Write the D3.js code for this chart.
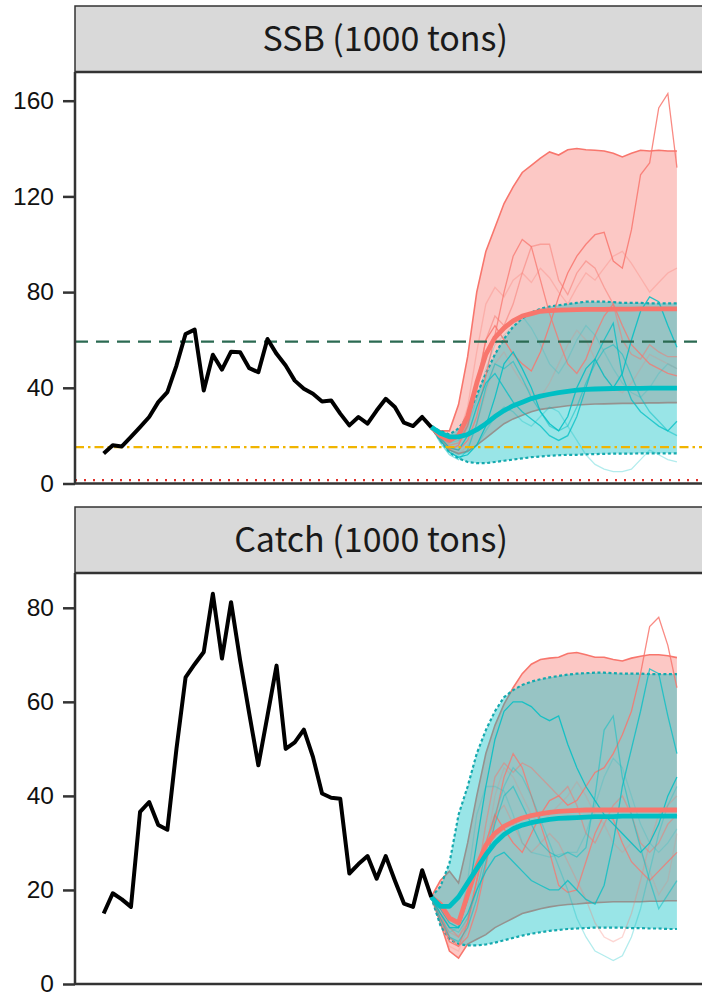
<!DOCTYPE html>
<html>
<head>
<meta charset="utf-8">
<script src="https://cdnjs.cloudflare.com/ajax/libs/d3/7.8.5/d3.min.js"></script>
<style>
  body { margin: 0; background: #fff; }
</style>
</head>
<body>
<svg id="chart"></svg>
<script>
// Years: historical run and projection (projection starts at last observed year)
const histYears = d3.range(1982, 2019);
const projYears = d3.range(2018, 2046);

// SSB (1000 tons), observed
const ssbHist = [12.5, 16, 15.5, 19.5, 23.6, 27.8, 34, 38.2, 49.3, 62.5, 64.3, 38.9, 53.8, 47.6, 55.1, 54.9,
  48.2, 46.5, 60.4, 54.2, 49.3, 43, 39.6, 37.5, 34.3, 34.7, 29.2, 24.3, 27.8, 25, 30.5, 35.4, 32, 25.4, 24, 27.8, 23.6];

// Catch (1000 tons), observed
const catchHist = [15, 19.3, 18, 16.4, 36.6, 38.7, 33.8, 32.8, 50, 65.2, 68, 70.6, 83, 69.2, 81.2, 68.8,
  57.5, 46.5, 57, 67.7, 50, 51.4, 54.1, 48.3, 40.5, 39.6, 39.4, 23.5, 25.5, 27.2, 22.4, 27.2, 22, 17.1, 16.4, 24.2, 18.5];

// Scenario names (ggplot default hues)
const scenarios = ["A", "B"];

// SSB projections: median and band per scenario
const ssbMedA = [23.6, 20, 18, 20, 28, 42, 54, 61, 65, 68, 70, 71, 72, 72.3, 72.5, 72.6, 72.7, 72.8, 72.8, 72.8, 72.9, 72.9, 72.9, 73, 73, 73, 73, 73];
const ssbLoA = [23.6, 18, 14, 12.5, 13.5, 16, 19, 22, 25, 27, 28.5, 30, 31, 31.5, 32, 32.5, 32.8, 33, 33.2, 33.3, 33.4, 33.5, 33.5, 33.6, 33.7, 33.7, 33.8, 33.8];
const ssbHiA = [23.6, 22, 22, 33, 53, 80, 97, 107, 117, 124, 130, 133, 136, 138.6, 137.3, 139.5, 140, 139.5, 139.3, 139, 138, 136.5, 138, 139.3, 139, 139.3, 139, 139];
const ssbMedB = [23.6, 21, 19.5, 19.5, 20.5, 22.5, 25, 28, 30.5, 32.5, 34, 35.5, 36.5, 37.3, 38, 38.5, 39, 39.3, 39.5, 39.6, 39.7, 39.8, 39.8, 39.8, 39.9, 39.9, 39.9, 39.9];
const ssbLoB = [23.6, 18, 13, 10.5, 9, 8.5, 8.5, 9, 9.5, 10, 10.5, 11, 11.3, 11.6, 11.8, 12, 12, 12.2, 12.3, 12.4, 12.5, 12.5, 12.5, 12.6, 12.6, 12.6, 12.6, 12.6];
const ssbHiB = [23.6, 22, 20.5, 23, 28, 37, 46, 54, 60.5, 65.5, 69, 71.5, 73, 74, 74.5, 75, 75.5, 76, 76, 76, 75.8, 75.5, 75.5, 75.5, 75.3, 75.3, 75.3, 75.3];

// SSB sample trajectories
const ssbSimA = [
  [23.6, 18, 14, 16, 24, 40, 60, 66, 60, 54, 50, 47, 55, 66, 78, 88, 95, 100, 104, 105, 93, 90, 106, 129, 134, 157, 163, 132],
  [23.6, 19, 15, 14, 18, 28, 45, 62, 80, 95, 102, 99, 85, 71, 60, 50, 46, 52, 62, 70, 75, 66, 58, 54, 50, 48, 46, 45],
  [23.6, 20, 16, 17, 25, 42, 60, 70, 66, 75, 88, 99, 100, 100, 85, 79, 88, 93, 90, 82, 75, 60, 54, 52, 58, 55, 53, 53],
  [23.6, 20, 17, 20, 32, 55, 75, 82, 78, 85, 88, 84, 90, 86, 80, 75, 82, 88, 85, 90, 95, 97, 92, 86, 80, 84, 88, 90],
  [23.6, 18, 13, 12, 16, 25, 38, 50, 55, 48, 42, 38, 36, 42, 50, 58, 64, 60, 52, 45, 40, 38, 42, 48, 54, 52, 50, 48]
];
const ssbSimB = [
  [23.6, 18, 13, 11, 12, 16, 24, 36, 50, 55, 48, 40, 30, 25, 22, 28, 40, 48, 52, 45, 40, 46, 60, 72, 78, 76, 66, 57],
  [23.6, 19, 15, 14, 20, 32, 42, 46, 40, 34, 30, 27, 24, 20, 18, 20, 28, 40, 52, 60, 67, 45, 35, 30, 27, 24, 22, 26],
  [23.6, 17, 12, 10, 14, 25, 40, 50, 48, 51, 44, 36, 30, 24, 22, 24, 32, 42, 50, 56, 58, 54, 45, 36, 30, 26, 22, 20],
  [23.6, 18, 14, 12, 13, 16, 22, 28, 32, 30, 26, 24, 28, 32, 30, 24, 18, 12, 8, 6, 5, 5, 6, 10, 14, 12, 10, 9],
  [23.6, 20, 17, 18, 24, 35, 48, 58, 62, 66, 70, 65, 58, 50, 46, 52, 60, 66, 62, 55, 48, 42, 38, 36, 40, 46, 50, 48]
];

// Catch projections: median and band per scenario
const catchMedA = [18.5, 17, 14, 13, 19, 25, 29.5, 32, 33.5, 34.5, 35.3, 35.8, 36.2, 36.5, 36.7, 36.8, 36.9, 37, 37, 37, 37, 37, 37, 37, 37, 37, 37, 37];
const catchLoA = [18.5, 13, 7, 5.5, 8.5, 9.5, 10.5, 12, 13, 14, 15, 15.5, 16, 16.4, 16.7, 16.9, 17, 17.2, 17.3, 17.4, 17.5, 17.5, 17.5, 17.5, 17.6, 17.6, 17.7, 17.7];
const catchHiA = [18.5, 22, 24, 21.5, 30, 40, 49, 55, 59.5, 63, 66, 68, 69, 69.3, 69.5, 70.3, 70.5, 70, 69.5, 69.5, 69, 68.7, 69.3, 69.7, 70, 70, 69.8, 69.4];
const catchMedB = [18.5, 16.5, 16.5, 18.5, 21.5, 24.5, 27.5, 30, 31.8, 33, 33.8, 34.3, 34.7, 35, 35.2, 35.3, 35.4, 35.5, 35.6, 35.6, 35.6, 35.7, 35.7, 35.7, 35.7, 35.7, 35.7, 35.7];
const catchLoB = [18.5, 12.5, 9.5, 8.5, 8.2, 8.2, 8.4, 8.8, 9.3, 9.8, 10.3, 10.7, 11, 11.3, 11.5, 11.7, 11.8, 11.9, 12, 12, 12, 12, 11.9, 11.9, 11.8, 11.8, 11.7, 11.7];
const catchHiB = [18.5, 20.7, 25.7, 36, 42, 49, 54, 58, 61, 62.5, 63.6, 64.3, 64.8, 65.2, 65.5, 65.8, 66, 66.1, 66.2, 66.2, 66.1, 66, 66, 66, 65.9, 65.9, 65.9, 65.9];

// Catch sample trajectories
const catchSimA = [
  [18.5, 14, 9, 8, 13, 22, 30, 36, 33, 30, 28, 32, 36, 39, 40, 38, 39, 42, 45, 46, 49, 53, 58, 66, 76, 78, 72, 63],
  [18.5, 15, 10, 8, 10, 16, 25, 35, 44, 49, 46, 40, 34, 28, 21, 19.5, 20, 26, 32, 36, 35, 30, 26, 24, 22, 24, 26, 28],
  [18.5, 16, 12, 10, 13, 22, 34, 44, 47, 45, 47, 46, 44, 42, 40, 42, 38, 32, 30, 34, 38, 40, 36, 30, 28, 30, 34, 36],
  [18.5, 15, 11, 10, 14, 22, 30, 36, 38, 34, 30, 28, 30, 32, 30, 26, 22, 18, 13, 10, 9, 10, 15, 22, 30, 36, 38, 40],
  [18.5, 14, 8, 7, 12, 20, 28, 40, 46, 44, 40, 36, 34, 36, 38, 40, 43, 40, 36, 34, 30, 28, 30, 28, 24, 19, 22, 32]
];
const catchSimB = [
  [18.5, 15, 12, 12, 18, 30, 42, 52, 58, 60, 60, 59, 57, 56, 57, 51, 46, 42, 39, 36, 34, 32, 30, 28, 30, 34, 40, 44],
  [18.5, 16, 13, 12, 15, 20, 24, 27, 28, 26, 24, 22, 21, 20, 20, 22, 20, 18, 17, 21, 30, 42, 50, 58, 67, 66, 57, 49],
  [18.5, 14, 10, 9, 12, 18, 26, 34, 40, 42, 38, 34, 30, 28, 27, 28, 27, 29, 40, 54, 57, 44, 36, 29, 22, 16, 19, 22],
  [18.5, 15, 12, 11, 14, 20, 28, 36, 42, 46, 44, 40, 35, 30, 25, 20, 14, 10, 7, 6, 5, 6, 10, 16, 24, 32, 38, 42],
  [18.5, 14, 11, 12, 22, 36, 42, 42, 41, 36, 30, 28, 27.5, 27, 27.5, 28, 28, 32, 38, 44, 48, 46, 40, 34, 30, 28, 30, 33]
];

// Reference points for SSB (1000 tons)
const ssbTarget = 59.3;
const ssbLimit = 15.2;
const ssbBan = 1.4;

const simAlpha = [0.85, 0.75, 0.5, 0.3, 0.2];

// ---- layout ----
const W = 702, H = 994;
const colors = { A: "#F8766D", B: "#00BFC4" };

const svg = d3.select("#chart").attr("width", W).attr("height", H);

const firstYear = histYears[0];
const lastYear = projYears[projYears.length - 1];
const pad = (lastYear - firstYear) * 0.05;
const xScale = d3.scaleLinear()
  .domain([firstYear - pad, lastYear + pad])
  .range([75, 705.6]);

const panels = [
  {
    title: "SSB (1000 tons)", stripTop: 6, top: 72, bottom: 483.5, yMax: 172,
    ticks: [0, 40, 80, 120, 160], hist: ssbHist,
    proj: { A: [ssbLoA, ssbMedA, ssbHiA, ssbSimA], B: [ssbLoB, ssbMedB, ssbHiB, ssbSimB] },
    refs: true
  },
  {
    title: "Catch (1000 tons)", stripTop: 507, top: 573, bottom: 984, yMax: 87.4,
    ticks: [0, 20, 40, 60, 80], hist: catchHist,
    proj: { A: [catchLoA, catchMedA, catchHiA, catchSimA], B: [catchLoB, catchMedB, catchHiB, catchSimB] },
    refs: false
  }
];

panels.forEach((p) => {
  const yScale = d3.scaleLinear().domain([0, p.yMax]).range([p.bottom, p.top]);
  const g = svg.append("g");
  const x0 = xScale.range()[0], x1 = xScale.range()[1];

  // Strip
  g.append("rect")
    .attr("x", x0).attr("y", p.stripTop)
    .attr("width", x1 - x0).attr("height", p.top - p.stripTop)
    .attr("fill", "#d9d9d9")
    .attr("stroke", "#333").attr("stroke-width", 1.5);
  g.append("text")
    .attr("x", 508)
    .attr("y", (p.stripTop + p.top) / 2)
    .attr("dy", "0.36em")
    .attr("text-anchor", "end")
    .attr("fill", "#1a1a1a")
    .style("font-family", "'Noto Sans CJK JP', 'Noto Sans', sans-serif")
    .style("font-size", "34px")
    .text(p.title);

  const area = d3.area()
    .x((d, i) => xScale(projYears[i]))
    .y0((d) => yScale(d[0]))
    .y1((d) => yScale(d[1]));
  const line = d3.line()
    .x((d, i) => xScale(projYears[i]))
    .y((d) => yScale(d));

  // Ribbons and band edges
  scenarios.forEach((s) => {
    const [lo, med, hi] = p.proj[s];
    const band = lo.map((v, i) => [v, hi[i]]);
    g.append("path")
      .attr("d", area(band))
      .attr("fill", colors[s])
      .attr("fill-opacity", 0.4);
    [lo, hi].forEach((edge) => {
      g.append("path")
        .attr("d", line(edge))
        .attr("fill", "none")
        .attr("stroke", s === "A" ? colors.A : "#14a9ae")
        .attr("stroke-width", s === "A" ? 1.6 : 2.2)
        .attr("stroke-dasharray", s === "A" ? null : "3,2.5");
    });
  });

  // Sample trajectories
  scenarios.forEach((s) => {
    p.proj[s][3].forEach((sim, k) => {
      g.append("path")
        .attr("d", line(sim))
        .attr("fill", "none")
        .attr("stroke", colors[s])
        .attr("stroke-opacity", simAlpha[k])
        .attr("stroke-width", 1.3);
    });
  });

  // Reference lines
  if (p.refs) {
    const refLine = (v, color, dash) => g.append("line")
      .attr("x1", x0).attr("x2", W)
      .attr("y1", yScale(v)).attr("y2", yScale(v))
      .attr("stroke", color).attr("stroke-width", 2.3)
      .attr("stroke-dasharray", dash);
    refLine(ssbTarget, "#2b6a52", "13,8");
    refLine(ssbLimit, "#f0b400", "9,4,2.5,4");
    refLine(ssbBan, "#e0302a", "2,7");
  }

  // Medians
  scenarios.forEach((s) => {
    g.append("path")
      .attr("d", line(p.proj[s][1]))
      .attr("fill", "none")
      .attr("stroke", colors[s])
      .attr("stroke-width", 4.8)
      .attr("stroke-linejoin", "round");
  });

  // Observed series
  g.append("path")
    .attr("d", d3.line().x((d, i) => xScale(histYears[i])).y((d) => yScale(d))(p.hist))
    .attr("fill", "none")
    .attr("stroke", "#000")
    .attr("stroke-width", 4)
    .attr("stroke-linejoin", "round");

  // Panel frame: top, left axis, bottom axis
  g.append("line").attr("x1", x0).attr("x2", W).attr("y1", p.top).attr("y2", p.top)
    .attr("stroke", "#333").attr("stroke-width", 2.5);
  g.append("line").attr("x1", x0).attr("x2", x0).attr("y1", p.top).attr("y2", p.bottom)
    .attr("stroke", "#333").attr("stroke-width", 2.5);
  g.append("line").attr("x1", x0).attr("x2", W).attr("y1", p.bottom).attr("y2", p.bottom)
    .attr("stroke", "#333").attr("stroke-width", 2.5);

  // Y axis
  const axis = g.append("g")
    .attr("transform", `translate(${x0},0)`)
    .call(d3.axisLeft(yScale).tickValues(p.ticks).tickSize(12).tickPadding(9));
  axis.select(".domain").remove();
  axis.selectAll(".tick line").attr("stroke", "#333").attr("stroke-width", 2.5);
  axis.selectAll(".tick text")
    .attr("fill", "#111")
    .style("font-family", "'Liberation Sans', Arial, sans-serif")
    .style("font-size", "24.5px");
});
</script>
</body>
</html>
